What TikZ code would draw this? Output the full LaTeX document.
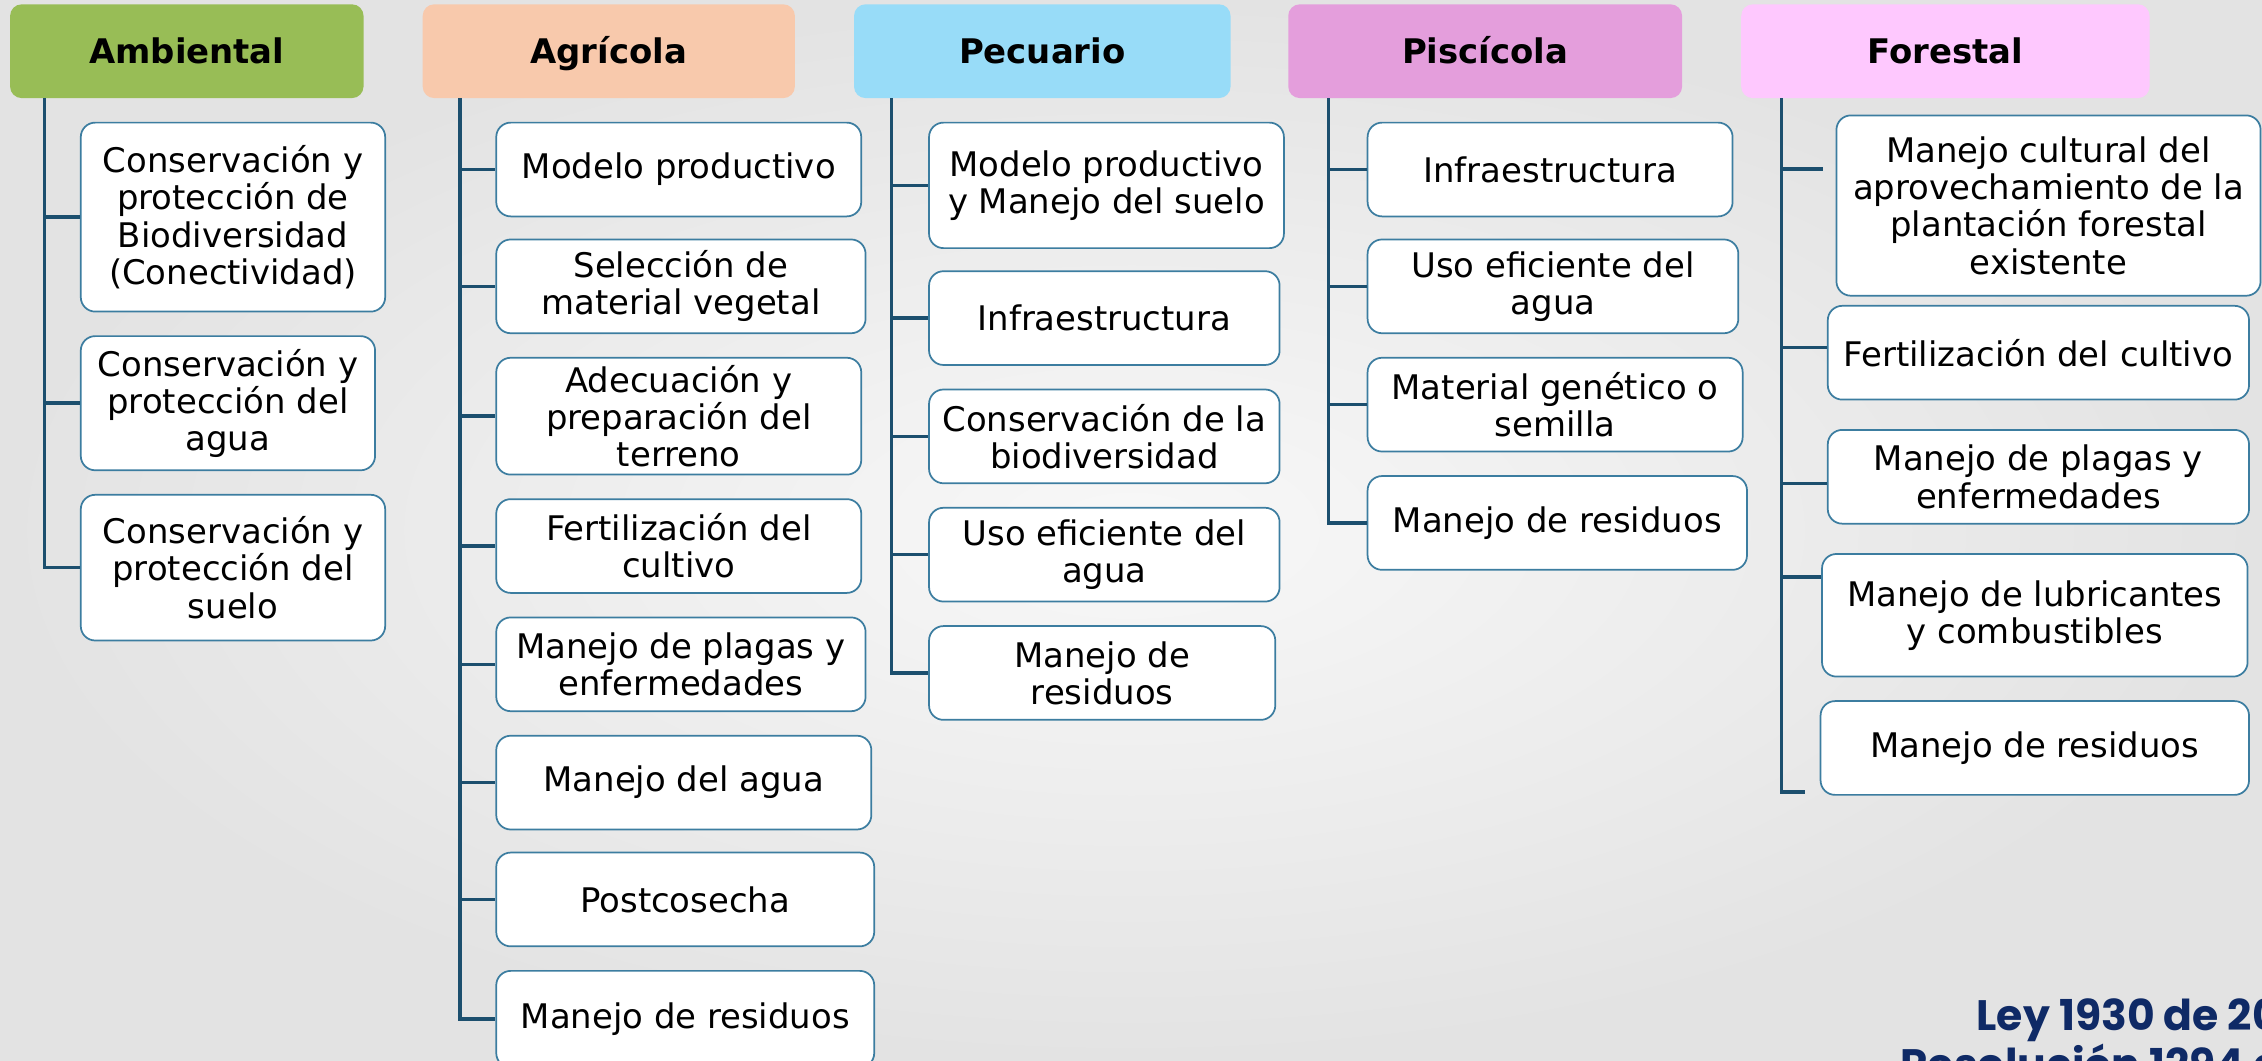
\documentclass[tikz,border=0pt]{standalone}
\usepackage{fontspec}
\setmainfont{DejaVu Sans}
\newfontfamily\popfont{Poppins}
\definecolor{cA}{HTML}{98BD56}
\definecolor{cG}{HTML}{F8C9AC}
\definecolor{cP}{HTML}{98DCF8}
\definecolor{cS}{HTML}{E49EDC}
\definecolor{cF}{HTML}{FEC8FE}
\definecolor{linkc}{HTML}{1C4F6E}
\definecolor{boxc}{HTML}{3C7DA0}
\definecolor{navy}{HTML}{0F2A66}
\definecolor{bgin}{HTML}{F8F8F8}
\definecolor{bgout}{HTML}{E3E3E3}
\begin{document}
\begin{tikzpicture}[x=1pt,y=-1pt,
  head/.style={rounded corners=8pt, inner sep=0pt, minimum height=65pt,
    text height=20pt, text depth=3pt,
    font=\fontsize{23.5}{26}\selectfont\bfseries},
  box/.style={draw=boxc, line width=1.2pt, fill=white, rounded corners=10pt,
    inner sep=0pt, align=center, font=\fontsize{23.5}{25.8}\selectfont},
  link/.style={draw=linkc, line width=2.4pt},
  lawtext/.style={anchor=base west, inner sep=0pt, text=navy,
    font=\popfont\fontsize{29.5}{30}\selectfont\bfseries}]
\useasboundingbox (0,0) rectangle (1568,734.8);
\clip (0,0) rectangle (1568,734.8);
\shade[inner color=bgin, outer color=bgout] (0,0) rectangle (1568,734.8);

% headers
\node[head, fill=cA, minimum width=245pt] (hA) at (129.5,35.5) {Ambiental};
\node[head, fill=cG, minimum width=258pt] (hG) at (422,35.5) {Agrícola};
\node[head, fill=cP, minimum width=261pt] (hP) at (722.5,35.5) {Pecuario};
\node[head, fill=cS, minimum width=273pt] (hS) at (1029.5,35.5) {Piscícola};
\node[head, fill=cF, minimum width=283pt] (hF) at (1348.5,35.5) {Forestal};

% Ambiental
\node[box, minimum width=211pt, minimum height=131pt] (a1) at (161.5,150.5) {Conservación y\\protección de\\Biodiversidad\\(Conectividad)};
\node[box, minimum width=204pt, minimum height=93pt] (a2) at (158,279.5) {Conservación y\\protección del\\agua};
\node[box, minimum width=211pt, minimum height=101pt] (a3) at (161.5,393.5) {Conservación y\\protección del\\suelo};

% Agricola
\node[box, minimum width=253pt, minimum height=65pt] (g1) at (470.5,117.5) {Modelo productivo};
\node[box, minimum width=256pt, minimum height=65pt] (g2) at (472,198.5) {Selección de\\material vegetal};
\node[box, minimum width=253pt, minimum height=81pt] (g3) at (470.5,288.5) {Adecuación y\\preparación del\\terreno};
\node[box, minimum width=253pt, minimum height=65pt] (g4) at (470.5,378.5) {Fertilización del\\cultivo};
\node[box, minimum width=256pt, minimum height=65pt] (g5) at (472,460.5) {Manejo de plagas y\\enfermedades};
\node[box, minimum width=260pt, minimum height=65pt] (g6) at (474,542.5) {Manejo del agua};
\node[box, minimum width=262pt, minimum height=65pt] (g7) at (475,623.5) {Postcosecha};
\node[box, minimum width=262pt, minimum height=67pt] (g8) at (475,706.5) {Manejo de residuos};

% Pecuario
\node[box, minimum width=246pt, minimum height=87pt] (p1) at (767,128.5) {Modelo productivo\\y Manejo del suelo};
\node[box, minimum width=243pt, minimum height=65pt] (p2) at (765.5,220.5) {Infraestructura};
\node[box, minimum width=243pt, minimum height=65pt] (p3) at (765.5,302.5) {Conservación de la\\biodiversidad};
\node[box, minimum width=243pt, minimum height=65pt] (p4) at (765.5,384.5) {Uso eficiente del\\agua};
\node[box, minimum width=240pt, minimum height=65pt] (p5) at (764,466.5) {Manejo de\\residuos};

% Piscicola
\node[box, minimum width=253pt, minimum height=65pt] (s1) at (1074.5,117.5) {Infraestructura};
\node[box, minimum width=257pt, minimum height=65pt] (s2) at (1076.5,198.5) {Uso eficiente del\\agua};
\node[box, minimum width=260pt, minimum height=65pt] (s3) at (1078,280.5) {Material genético o\\semilla};
\node[box, minimum width=263pt, minimum height=65pt] (s4) at (1079.5,362.5) {Manejo de residuos};

% Forestal
\node[box, minimum width=294pt, minimum height=125pt] (f1) at (1420,142.5) {Manejo cultural del\\aprovechamiento de la\\plantación forestal\\existente};
\node[box, minimum width=292pt, minimum height=65pt] (f2) at (1413,244.5) {Fertilización del cultivo};
\node[box, minimum width=292pt, minimum height=65pt] (f3) at (1413,330.5) {Manejo de plagas y\\enfermedades};
\node[box, minimum width=295pt, minimum height=85pt] (f4) at (1410.5,426.5) {Manejo de lubricantes\\y combustibles};
\node[box, minimum width=297pt, minimum height=65pt] (f5) at (1410.5,518.5) {Manejo de residuos};

% connectors
\coordinate (tA) at (31,68);
\draw[link] (tA) |- (a3.west);
\foreach \b in {a1,a2} \draw[link] (\b.west -| tA) -- (\b.west);

\coordinate (tG) at (319,68);
\draw[link] (tG) |- (g8.west);
\foreach \b in {g1,g2,g3,g4,g5,g6,g7} \draw[link] (\b.west -| tG) -- (\b.west);

\coordinate (tP) at (618,68);
\draw[link] (tP) |- (p5.west);
\foreach \b in {p1,p2,p3,p4} \draw[link] (\b.west -| tP) -- (\b.west);

\coordinate (tS) at (921,68);
\draw[link] (tS) |- (s4.west);
\foreach \b in {s1,s2,s3} \draw[link] (\b.west -| tS) -- (\b.west);

\coordinate (tF) at (1235,68);
\coordinate (fe) at (1251,549);
\coordinate (fb1) at (1264,117);
\draw[link] (tF) |- (fe);
\draw[link] (fb1 -| tF) -- (fb1);
\draw[link] ([yshift=3.5pt]f2.west -| tF) -- ([yshift=3.5pt]f2.west);
\draw[link] ([yshift=-4.5pt]f3.west -| tF) -- ([yshift=-4.5pt]f3.west);
\draw[link] ([yshift=26.5pt]f4.west -| tF) -- ([yshift=26.5pt]f4.west);

% law text
\node[lawtext] (ley) at (1370,714) {Ley 1930 de 20};
\node[lawtext] (res) at (1317,748) {Resolución 1294 d};
\end{tikzpicture}
\end{document}
